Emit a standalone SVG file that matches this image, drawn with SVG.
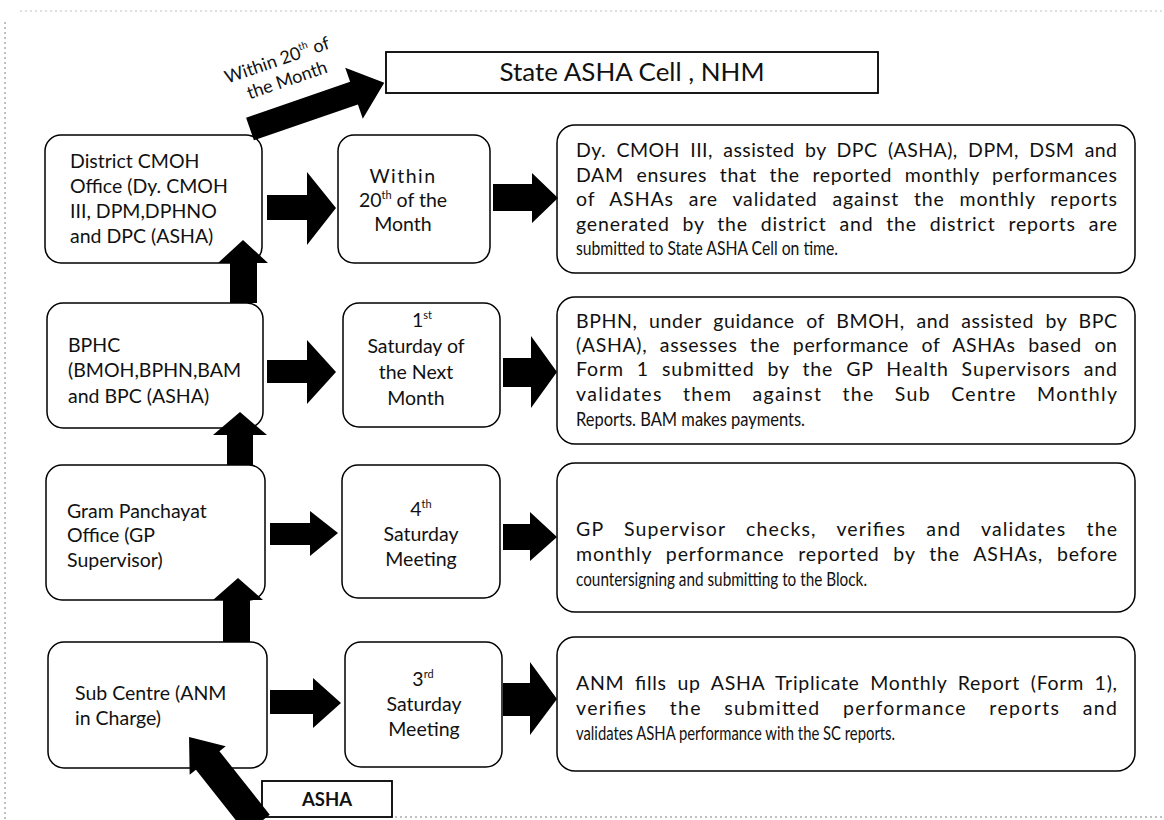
<svg xmlns="http://www.w3.org/2000/svg" width="1164" height="820" viewBox="0 0 1164 820">
<style>
.box{fill:#fff;stroke:#000;stroke-width:1.5}
.sq{fill:#fff;stroke:#000;stroke-width:1.8}
.t{font-family:Lato,"Open Sans","Liberation Sans",sans-serif;font-size:19.5px;fill:#111}
.r{font-size:19.5px}
.c{text-anchor:middle}
.arr{fill:#000}
.noise{stroke:#aaa;stroke-width:1.5;stroke-dasharray:2 3;fill:none}
</style>
<rect width="1164" height="820" fill="#fff"/>
<g id="scan-edges">
<line class="noise" x1="5" y1="22" x2="5" y2="820"/>
<line class="noise" x1="20" y1="11" x2="1164" y2="11" stroke-opacity="0.5"/>
<line class="noise" x1="395" y1="817" x2="1164" y2="817"/>
</g>

<g id="state">
<rect class="sq" x="386" y="52" width="492" height="41"/>
<text class="t c" x="632" y="81" style="font-size:25px" textLength="265" lengthAdjust="spacingAndGlyphs">State ASHA Cell , NHM</text>
</g>

<g id="cmoh">
<rect class="box" x="45" y="135" width="217" height="128" rx="16"/>
<text class="t" x="70" y="168">District CMOH</text>
<text class="t" x="70" y="193">Office (Dy. CMOH</text>
<text class="t" x="70" y="218">III, DPM,DPHNO</text>
<text class="t" x="70" y="243">and DPC (ASHA)</text>
</g>
<g id="within20">
<rect class="box" x="338" y="135" width="152" height="128" rx="16"/>
<text class="t c" x="403" y="183" style="letter-spacing:1.5px">Within</text>
<text class="t c" x="403" y="207">20<tspan style="font-size:11px" dy="-8">th</tspan><tspan dy="8"> of the</tspan></text>
<text class="t c" x="403" y="231">Month</text>
</g>
<g id="dy-cmoh">
<rect class="box" x="557" y="125" width="578" height="148" rx="18"/>
<text class="t r" x="576" y="157" style="word-spacing:5px" textLength="541" lengthAdjust="spacing">Dy. CMOH III, assisted by DPC (ASHA), DPM, DSM and</text>
<text class="t r" x="576" y="182" style="word-spacing:7px" textLength="541" lengthAdjust="spacing">DAM ensures that the reported monthly performances</text>
<text class="t r" x="576" y="206" style="word-spacing:9px" textLength="541" lengthAdjust="spacing">of ASHAs are validated against the monthly reports</text>
<text class="t r" x="576" y="231" style="word-spacing:7px" textLength="541" lengthAdjust="spacing">generated by the district and the district reports are</text>
<text class="t r" x="576" y="255" textLength="262" lengthAdjust="spacingAndGlyphs">submitted to State ASHA Cell on time.</text>
</g>

<g id="bphc">
<rect class="box" x="47" y="303" width="216" height="125" rx="16"/>
<text class="t" x="68" y="352">BPHC</text>
<text class="t" x="68" y="377">(BMOH,BPHN,BAM</text>
<text class="t" x="68" y="403">and BPC (ASHA)</text>
</g>
<g id="sat1">
<rect class="box" x="343" y="303" width="157" height="124" rx="16"/>
<text class="t c" x="422" y="327">1<tspan style="font-size:11px" dy="-8">st</tspan></text>
<text class="t c" x="416" y="353">Saturday of</text>
<text class="t c" x="416" y="379">the Next</text>
<text class="t c" x="416" y="405">Month</text>
</g>
<g id="bphn">
<rect class="box" x="557" y="297" width="578" height="147" rx="18"/>
<text class="t r" x="576" y="328" style="word-spacing:6px" textLength="541" lengthAdjust="spacing">BPHN, under guidance of BMOH, and assisted by BPC</text>
<text class="t r" x="576" y="352" style="word-spacing:7px" textLength="541" lengthAdjust="spacing">(ASHA), assesses the performance of ASHAs based on</text>
<text class="t r" x="576" y="376" style="word-spacing:7px" textLength="541" lengthAdjust="spacing">Form 1 submitted by the GP Health Supervisors and</text>
<text class="t r" x="576" y="401" style="word-spacing:14px" textLength="541" lengthAdjust="spacing">validates them against the Sub Centre Monthly</text>
<text class="t r" x="576" y="426" textLength="229" lengthAdjust="spacingAndGlyphs">Reports. BAM makes payments.</text>
</g>

<g id="gp">
<rect class="box" x="46" y="465" width="219" height="135" rx="16"/>
<text class="t" x="67" y="518">Gram Panchayat</text>
<text class="t" x="67" y="542">Office (GP</text>
<text class="t" x="67" y="567">Supervisor)</text>
</g>
<g id="sat4">
<rect class="box" x="342" y="465" width="158" height="133" rx="16"/>
<text class="t c" x="421" y="516">4<tspan style="font-size:11px" dy="-8">th</tspan></text>
<text class="t c" x="421" y="541">Saturday</text>
<text class="t c" x="421" y="566">Meeting</text>
</g>
<g id="gp-supervisor">
<rect class="box" x="557" y="463" width="578" height="149" rx="18"/>
<text class="t r" x="576" y="536" style="word-spacing:14px" textLength="541" lengthAdjust="spacing">GP Supervisor checks, verifies and validates the</text>
<text class="t r" x="576" y="561" style="word-spacing:8px" textLength="541" lengthAdjust="spacing">monthly performance reported by the ASHAs, before</text>
<text class="t r" x="576" y="586" textLength="291" lengthAdjust="spacingAndGlyphs">countersigning and submitting to the Block.</text>
</g>

<g id="sub-centre">
<rect class="box" x="48" y="642" width="219" height="126" rx="16"/>
<text class="t" x="75" y="700">Sub Centre (ANM</text>
<text class="t" x="75" y="725">in Charge)</text>
</g>
<g id="sat3">
<rect class="box" x="345" y="642" width="157" height="125" rx="16"/>
<text class="t c" x="423" y="686">3<tspan style="font-size:11px" dy="-8">rd</tspan></text>
<text class="t c" x="424" y="711">Saturday</text>
<text class="t c" x="424" y="736">Meeting</text>
</g>
<g id="anm">
<rect class="box" x="557" y="637" width="578" height="134" rx="18"/>
<text class="t r" x="576" y="690" style="word-spacing:5px" textLength="541" lengthAdjust="spacing">ANM fills up ASHA Triplicate Monthly Report (Form 1),</text>
<text class="t r" x="576" y="715" style="word-spacing:16px" textLength="541" lengthAdjust="spacing">verifies the submitted performance reports and</text>
<text class="t r" x="576" y="740" textLength="319" lengthAdjust="spacingAndGlyphs">validates ASHA performance with the SC reports.</text>
</g>

<g id="asha">
<rect class="sq" x="262" y="781" width="130" height="36"/>
<text class="t c" x="327" y="806" style="font-weight:bold;font-size:18.5px">ASHA</text>
</g>

<g id="connectors">
<polygon class="arr" transform="translate(250,129) rotate(-19)" points="0,-12 110,-12 110,-27 142,0 110,27 110,12 0,12"/>
<g transform="translate(279,66) rotate(-19)">
<text class="t c" x="0" y="0" style="font-size:18px">Within 20<tspan style="font-size:10px" dy="-8">th</tspan><tspan dy="8"> of</tspan></text>
<text class="t c" x="3" y="22" style="font-size:18px">the Month</text>
</g>
<polygon class="arr" points="267,195 307,195 307,172 336,208 307,245 307,220 267,220"/>
<polygon class="arr" points="493,184 532,184 532,173 558,198 532,223 532,211 493,211"/>
<polygon class="arr" points="267,360 307,360 307,340 336,372 307,404 307,383 267,383"/>
<polygon class="arr" points="503,358 531,358 531,336 557,372 531,408 531,387 503,387"/>
<polygon class="arr" points="270,523 310,523 310,511 338,533 310,556 310,545 270,545"/>
<polygon class="arr" points="503,524 530,524 530,512 557,537 530,561 530,550 503,550"/>
<polygon class="arr" points="270,690 313,690 313,678 341,703 313,728 313,714 270,714"/>
<polygon class="arr" points="503,683 530,683 530,662 557,699 530,735 530,716 503,716"/>
<polygon class="arr" points="230,303 230,263 218,263 243,240 268,263 257,263 257,303"/>
<polygon class="arr" points="227,465 227,435 213,435 240,412 267,435 253,435 253,465"/>
<polygon class="arr" points="223,642 223,600 213,600 238,578 263,600 250,600 250,642"/>
<polygon class="arr" transform="translate(258,824) rotate(-128.4)" points="0,-15 81,-15 81,-23 111,0 81,23 81,15 0,15"/>
</g>
</svg>
